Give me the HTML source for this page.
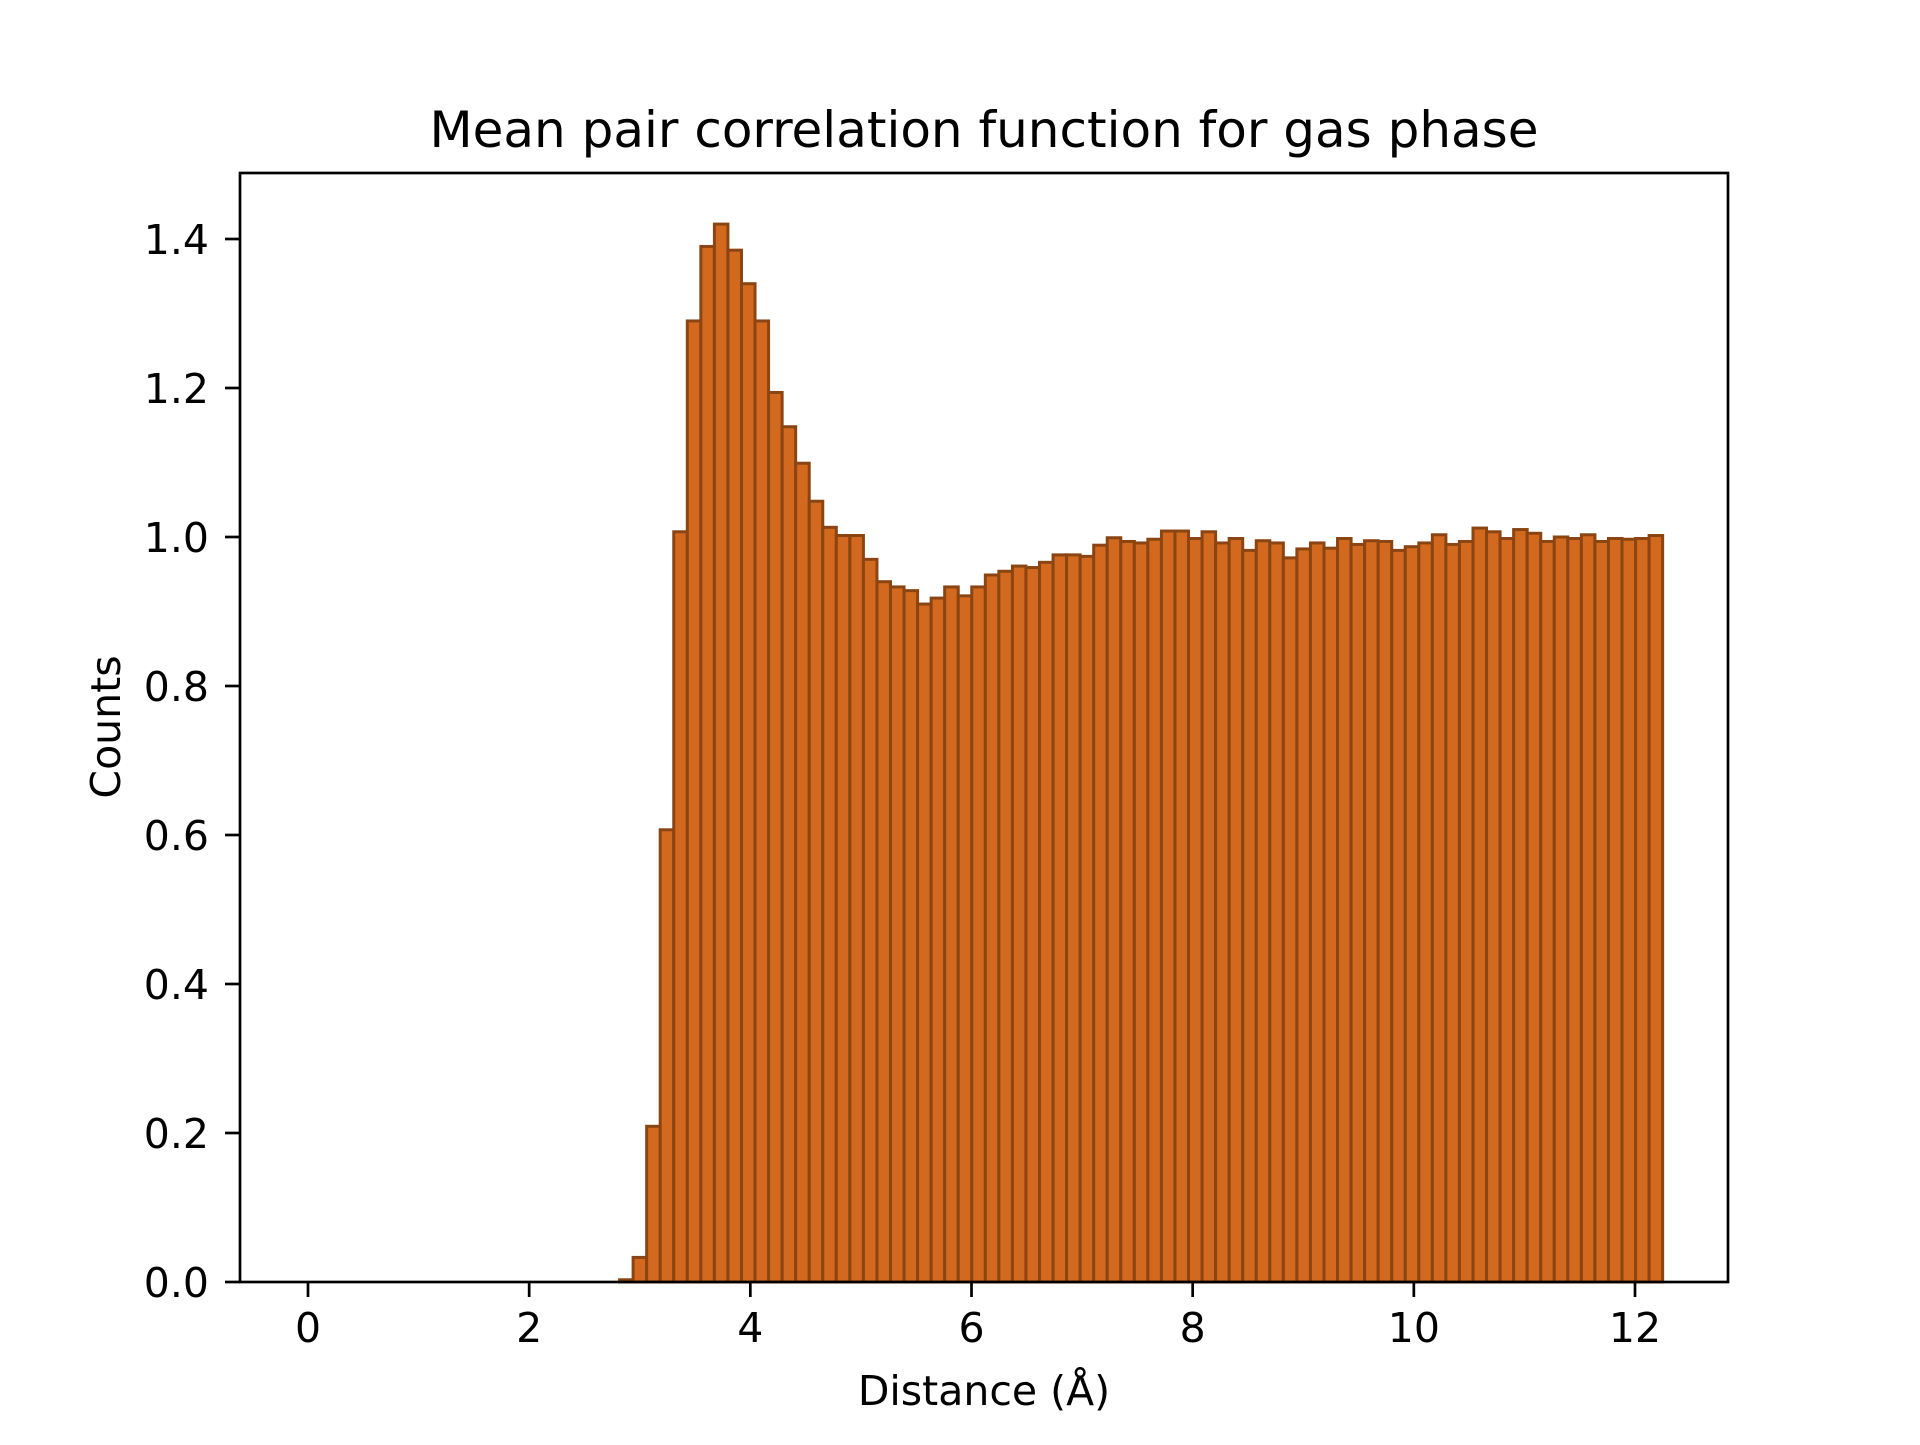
<!DOCTYPE html>
<html><head><meta charset="utf-8"><style>
html,body{margin:0;padding:0;background:#fff;}
svg text{font-family:"DejaVu Sans","Liberation Sans",sans-serif;fill:#000;}
</style></head><body>
<svg id="chart" width="1920" height="1440" viewBox="0 0 1920 1440" xmlns="http://www.w3.org/2000/svg">
<rect x="0" y="0" width="1920" height="1440" fill="#fff"/>
<text x="984" y="147" font-size="50" text-anchor="middle">Mean pair correlation function for gas phase</text>
<g id="bars"></g>
<g id="axes"></g>
<text x="984" y="1405" font-size="41" text-anchor="middle">Distance (Å)</text>
<text transform="translate(120,727) rotate(-90)" font-size="41" text-anchor="middle">Counts</text>
</svg>
<script>
const binWidth = 0.1225;
const counts = [0,0,0,0,0,0,0,0,0,0,0,0,0,0,0,0,0,0,0,0,0,0,0,0.003,
0.033,0.209,0.607,1.007,1.29,1.39,1.42,1.385,1.34,1.29,1.194,1.148,1.099,1.048,1.013,1.002,1.002,0.97,0.94,0.933,0.928,0.91,0.918,0.933,0.921,0.933,
0.949,0.954,0.961,0.959,0.966,0.976,0.976,0.974,0.989,0.999,0.994,0.992,0.997,1.008,1.008,0.998,1.007,0.992,0.998,0.982,0.995,0.992,0.972,0.984,0.992,
0.985,0.998,0.99,0.995,0.994,0.982,0.987,0.992,1.003,0.99,0.994,1.012,1.007,0.998,1.01,1.005,0.994,1.0,0.998,1.003,0.994,0.998,0.997,0.998,1.002];
const xTicks = [0,2,4,6,8,10,12];
const yTicks = [0.0,0.2,0.4,0.6,0.8,1.0,1.2,1.4];

const NS = "http://www.w3.org/2000/svg";
const L = 240, R = 1728, T = 173, B = 1282;
function xs(v){ return 308 + v * (1635 - 308) / 12; }
function ys(v){ return 1282 - v * (1282 - 239) / 1.4; }

const bars = document.getElementById('bars');
counts.forEach((c, i) => {
  const x0 = xs(i * binWidth), x1 = xs((i + 1) * binWidth);
  const r = document.createElementNS(NS, 'rect');
  r.setAttribute('x', x0);
  r.setAttribute('y', ys(c));
  r.setAttribute('width', x1 - x0);
  r.setAttribute('height', ys(0) - ys(c));
  r.setAttribute('fill', '#D2691E');
  r.setAttribute('stroke', '#8B4513');
  r.setAttribute('stroke-width', '3');
  
  
  bars.appendChild(r);
});

const axes = document.getElementById('axes');
const frame = document.createElementNS(NS, 'rect');
frame.setAttribute('x', L); frame.setAttribute('y', T);
frame.setAttribute('width', R - L); frame.setAttribute('height', B - T);
frame.setAttribute('fill', 'none'); frame.setAttribute('stroke', '#000'); frame.setAttribute('stroke-width', '2.7');


axes.appendChild(frame);

xTicks.forEach(t => {
  const x = xs(t);
  const l = document.createElementNS(NS, 'line');
  l.setAttribute('x1', x); l.setAttribute('x2', x); l.setAttribute('y1', B); l.setAttribute('y2', B + 15);
  l.setAttribute('stroke', '#000'); l.setAttribute('stroke-width', '2.7');
  
  
  axes.appendChild(l);
  const tx = document.createElementNS(NS, 'text');
  tx.setAttribute('x', x); tx.setAttribute('y', 1342);
  tx.setAttribute('font-size', '41'); tx.setAttribute('text-anchor', 'middle');
  tx.textContent = String(t);
  
  
  axes.appendChild(tx);
});
yTicks.forEach(t => {
  const y = ys(t);
  const l = document.createElementNS(NS, 'line');
  l.setAttribute('x1', L - 15); l.setAttribute('x2', L); l.setAttribute('y1', y); l.setAttribute('y2', y);
  l.setAttribute('stroke', '#000'); l.setAttribute('stroke-width', '2.7');
  
  
  axes.appendChild(l);
  const tx = document.createElementNS(NS, 'text');
  tx.setAttribute('x', 209); tx.setAttribute('y', y + 15);
  tx.setAttribute('font-size', '41'); tx.setAttribute('text-anchor', 'end');
  tx.textContent = t.toFixed(1);
  
  
  axes.appendChild(tx);
});
</script>
</body></html>
